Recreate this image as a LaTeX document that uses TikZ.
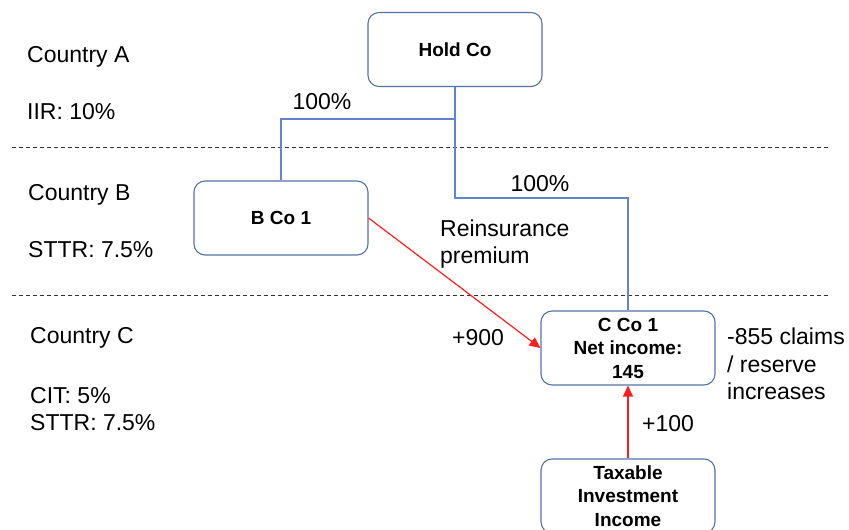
\documentclass[tikz,border=0pt]{standalone}
\usepackage{fontspec}
\setmainfont{Liberation Sans}
\usetikzlibrary{arrows.meta}
\definecolor{boxblue}{RGB}{84,114,170}
\definecolor{linkblue}{RGB}{96,132,206}
\definecolor{flowred}{RGB}{250,30,30}
\definecolor{dashgray}{RGB}{50,50,50}
\begin{document}
\begin{tikzpicture}[x=1pt,y=-1pt,
  entity/.style={draw=boxblue, line width=1.1pt, rounded corners=11pt, fill=white,
    minimum width=174pt, minimum height=74pt, inner sep=2pt, align=center,
    font=\fontsize{19}{23.5}\selectfont\bfseries},
  lbl/.style={inner sep=0pt, anchor=west, align=left, font=\fontsize{23}{27.5}\selectfont},
  link/.style={draw=linkblue, line width=1.1pt},
  flow/.style={draw=flowred, line width=1.2pt, -{Triangle[length=11pt,width=10pt]}},
  divider/.style={draw=dashgray, line width=0.9pt, dash pattern=on 4pt off 3pt}]
\useasboundingbox (0,0) rectangle (849,530);
\clip (0,0) rectangle (849,530);
% dividers
\coordinate (d1l) at (12,147); \coordinate (d1r) at (831,147);
\coordinate (d2l) at (12,295); \coordinate (d2r) at (831,295);
\draw[divider] (d1l) -- (d1r);
\draw[divider] (d2l) -- (d2r);
% country labels
\node[lbl] (ca) at (27,57) {Country A};
\node[lbl] (iir) at (27,112) {IIR: 10\%};
\node[lbl] (cb) at (28,195) {Country B};
\node[lbl] (sttrb) at (28,250) {STTR: 7.5\%};
\node[lbl] (cc) at (30,338) {Country C};
\node[lbl] (citc) at (30,409) {CIT: 5\%\\STTR: 7.5\%};
% entities
\node[entity] (hold) at (455,49.5) {Hold Co};
\node[entity] (bco) at (281,218) {B Co 1};
\node[entity] (cco) at (628,348) {C Co 1\\Net income:\\145};
\node[entity] (tii) at (628,496) {Taxable\\Investment\\Income};
% ownership links
\coordinate (j1) at (455,119);
\coordinate (j2) at (455,198);
\draw[link] (hold.south) -- (j1) -| (bco.north);
\draw[link] (j1) -- (j2) -| (cco.north);
\node[lbl, anchor=center] (p1) at (322,102) {100\%};
\node[lbl, anchor=center] (p2) at (540,184) {100\%};
% flows
\draw[flow] (bco.east) -- (cco.west);
\draw[flow] (tii.north) -- (cco.south);
\node[lbl] (reins) at (440,244) {Reinsurance\\premium};
\node[lbl] (p900) at (452,338) {+900};
\node[lbl] (claims) at (727,364) {-855 claims\\/ reserve\\increases};
\node[lbl] (p100) at (642,424) {+100};
\end{tikzpicture}
\end{document}
